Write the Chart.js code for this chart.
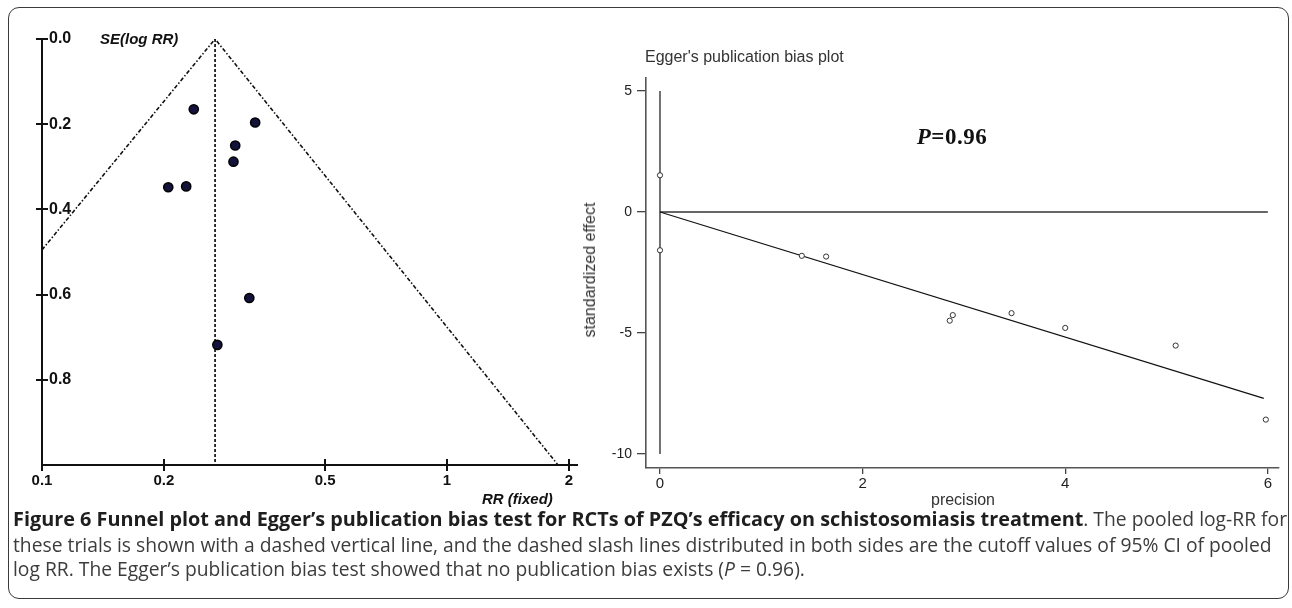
<!DOCTYPE html>
<html><head><meta charset="utf-8">
<script src="https://cdn.jsdelivr.net/npm/chart.js@4.4.0/dist/chart.umd.min.js"></script>
<style>
html,body{margin:0;padding:0;background:#fff;}
body{width:1292px;height:608px;position:relative;overflow:hidden;font-family:"Liberation Sans",Arial,sans-serif;}
.abs{position:absolute;white-space:nowrap;}
#frame{position:absolute;left:8px;top:7px;width:1281px;height:592px;border:1.3px solid #3a3a3a;border-radius:11px;box-sizing:border-box;}
canvas{position:absolute;}
.cap{position:absolute;left:13px;font-family:"Open Sans",sans-serif;color:#3c3c3c;white-space:nowrap;line-height:25px;height:25px;font-size:16px;}
.cap b{color:#1e1e1e;font-weight:700;}
</style></head><body>
<div id="frame"></div>
<canvas id="funnel" width="620" height="520" style="left:0;top:0"></canvas>
<canvas id="egger" width="732" height="480" style="left:560px;top:40px"></canvas>
<div class="abs" style="left:100px;top:30px;font:italic bold 15px 'Liberation Sans',Arial,sans-serif;line-height:18px;color:#111">SE(log RR)</div>
<div class="abs" style="left:482px;top:490px;font:italic bold 15px 'Liberation Sans',Arial,sans-serif;line-height:18px;color:#111">RR (fixed)</div>
<div class="abs" style="left:645px;top:47px;font:16px 'Liberation Sans',Arial,sans-serif;line-height:20px;color:#333">Egger's publication bias plot</div>
<div class="abs" style="left:952px;top:124px;transform:translateX(-50%);font:bold 23px 'Liberation Serif','Times New Roman',serif;line-height:26px;color:#111;letter-spacing:0.5px"><i>P</i>=0.96</div>
<div class="abs" style="left:963px;top:490px;transform:translateX(-50%);font:16px 'Liberation Sans',Arial,sans-serif;line-height:20px;color:#333">precision</div>
<div class="abs" style="left:590px;top:270px;transform:translate(-50%,-50%) rotate(-90deg);font:16px 'Liberation Sans',Arial,sans-serif;line-height:20px;color:#333">standardized effect</div>
<div class="cap" id="cap1" style="top:506px"><b>Figure 6 Funnel plot and Egger’s publication bias test for RCTs of PZQ’s efficacy on schistosomiasis treatment</b>. The pooled log-RR for</div>
<div class="cap" id="cap2" style="top:532px">these trials is shown with a dashed vertical line, and the dashed slash lines distributed in both sides are the cutoff values of 95% CI of pooled</div>
<div class="cap" id="cap3" style="top:556px">log RR. The Egger’s publication bias test showed that no publication bias exists (<i>P</i> = 0.96).</div>
<script>
// ---- Funnel plot data (left) ----
const funnelRR = [0.237, 0.336, 0.300, 0.297, 0.205, 0.227, 0.325, 0.271];
const funnelSE = [0.165, 0.196, 0.250, 0.288, 0.348, 0.346, 0.608, 0.718];
const pooledRR = 0.2675;
const pooledLineSE = [0, 1.0];
const funnelLineRR = [0.1, 0.2675, 1.88];
const funnelLineSE = [0.495, 0, 1.0];
const rrTicks = [0.1, 0.2, 0.5, 1, 2];
const rrTickLabels = ['0.1', '0.2', '0.5', '1', '2'];
const seTicks = [0, 0.2, 0.4, 0.6, 0.8];
const seTickLabels = ['0.0', '0.2', '0.4', '0.6', '0.8'];

// ---- Egger plot data (right) ----
const eggerPrecision = [0, 0, 1.40, 1.64, 2.86, 2.89, 3.47, 4.00, 5.09, 5.98];
const eggerStdEffect = [1.52, -1.58, -1.81, -1.84, -4.49, -4.26, -4.18, -4.79, -5.52, -8.58];
const eggerFitX = [0, 5.96];
const eggerFitY = [0, -7.7];
const zeroLineX = [0, 6];
const zeroLineY = [0, 0];
const vertLineX = [0, 0];
const vertLineY = [-10, 5];
const precTicks = [0, 2, 4, 6];
const precTickLabels = ['0', '2', '4', '6'];
const effTicks = [-10, -5, 0, 5];
const effTickLabels = ['-10', '-5', '0', '5'];

const FAM = "'Liberation Sans', Arial, sans-serif";
Chart.defaults.font.family = FAM;

const crossTicks = {
  id: 'crossTicks',
  afterDraw(chart) {
    const {ctx, chartArea, scales: {x, y}} = chart;
    ctx.save();
    ctx.strokeStyle = '#111';
    ctx.lineWidth = 2;
    x.ticks.forEach(t => {
      const px = Math.round(x.getPixelForValue(t.value));
      ctx.beginPath(); ctx.moveTo(px, chartArea.bottom - 6); ctx.lineTo(px, chartArea.bottom + 6); ctx.stroke();
    });
    y.ticks.forEach(t => {
      const py = Math.round(y.getPixelForValue(t.value));
      ctx.beginPath(); ctx.moveTo(chartArea.left - 6, py); ctx.lineTo(chartArea.left + 6, py); ctx.stroke();
    });
    ctx.restore();
  }
};

new Chart(document.getElementById('funnel'), {
  type: 'scatter',
  data: {
    datasets: [
      {label: 'Trials', data: funnelRR.map((x, i) => ({x, y: funnelSE[i]})), showLine: false,
       pointRadius: 4.6, pointBackgroundColor: '#12123a', pointBorderColor: '#000', pointBorderWidth: 1.5, order: 0},
      {label: 'Pooled', data: pooledLineSE.map(y => ({x: pooledRR, y})), showLine: true,
       borderColor: '#111', borderWidth: 1.7, borderDash: [3, 2], pointRadius: 0, order: 1},
      {label: 'CI', data: funnelLineRR.map((x, i) => ({x, y: funnelLineSE[i]})), showLine: true,
       borderColor: '#111', borderWidth: 1.6, borderDash: [4, 2, 1.5, 2], pointRadius: 0, order: 2}
    ]
  },
  options: {
    responsive: false, animation: false, events: [],
    layout: {padding: {left: 32, top: 39, right: 43, bottom: 15}},
    plugins: {legend: {display: false}, tooltip: {enabled: false}},
    scales: {
      x: {type: 'logarithmic', min: 0.1, max: 2.094, bounds: 'data', position: 'bottom',
          afterBuildTicks: s => { s.ticks = rrTicks.map(v => ({value: v})); },
          afterFit: s => { s.height = 40; },
          ticks: {autoSkip: false, maxRotation: 0, padding: 7, color: '#111',
                  font: {size: 15, weight: 'bold'}, callback: (v, i) => rrTickLabels[i]},
          grid: {display: false, drawTicks: false},
          border: {display: true, color: '#111', width: 2}},
      y: {type: 'linear', reverse: true, min: 0, max: 1, bounds: 'data', position: 'left',
          afterBuildTicks: s => { s.ticks = seTicks.map(v => ({value: v})); },
          afterFit: s => { s.width = 10; },
          ticks: {mirror: true, padding: 7, autoSkip: false, color: '#111',
                  font: {size: 16, weight: 'bold'}, callback: (v, i) => seTickLabels[i]},
          grid: {display: false, drawTicks: false},
          border: {display: true, color: '#111', width: 2}}
    }
  },
  plugins: [crossTicks]
});

new Chart(document.getElementById('egger'), {
  type: 'scatter',
  data: {
    datasets: [
      {label: 'Studies', data: eggerPrecision.map((x, i) => ({x, y: eggerStdEffect[i]})), showLine: false,
       pointRadius: 2.6, pointBackgroundColor: '#fff', pointBorderColor: '#333', pointBorderWidth: 1, order: 0},
      {label: 'Fit', data: eggerFitX.map((x, i) => ({x, y: eggerFitY[i]})), showLine: true,
       borderColor: '#111', borderWidth: 1.2, pointRadius: 0, order: 1},
      {label: 'Zero', data: zeroLineX.map((x, i) => ({x, y: zeroLineY[i]})), showLine: true,
       borderColor: '#333', borderWidth: 1.5, pointRadius: 0, order: 2},
      {label: 'Vert', data: vertLineX.map((x, i) => ({x, y: vertLineY[i]})), showLine: true,
       borderColor: '#444', borderWidth: 1.5, pointRadius: 0, order: 3}
    ]
  },
  options: {
    responsive: false, animation: false, events: [],
    layout: {padding: {left: 46, top: 38, right: 13, bottom: 12}},
    plugins: {legend: {display: false}, tooltip: {enabled: false}},
    scales: {
      x: {type: 'linear', min: -0.138, max: 6.11, bounds: 'data', position: 'bottom',
          afterBuildTicks: s => { s.ticks = precTicks.map(v => ({value: v})); },
          afterFit: s => { s.height = 40; },
          ticks: {autoSkip: false, maxRotation: 0, padding: 1, color: '#222',
                  font: {size: 15}, callback: (v, i) => precTickLabels[i]},
          grid: {display: true, drawOnChartArea: false, drawTicks: true, tickLength: 6, color: '#444', lineWidth: 1.3},
          border: {display: true, color: '#555', width: 1.6}},
      y: {type: 'linear', min: -10.58, max: 5.54, bounds: 'data', position: 'left',
          afterBuildTicks: s => { s.ticks = effTicks.map(v => ({value: v})); },
          afterFit: s => { s.width = 40; },
          ticks: {autoSkip: false, padding: 5, color: '#222',
                  font: {size: 14}, callback: (v, i) => effTickLabels[i]},
          grid: {display: true, drawOnChartArea: false, drawTicks: true, tickLength: 9, color: '#444', lineWidth: 1.3},
          border: {display: true, color: '#555', width: 1.6}}
    }
  }
});

function fitCaption() {
  const caps = document.querySelectorAll('.cap');
  const cap1 = document.getElementById('cap1');
  const cap2 = document.getElementById('cap2');
  const b = cap1.querySelector('b');
  caps.forEach(e => e.style.fontSize = '16px');
  b.style.fontSize = '';
  const w2 = cap2.getBoundingClientRect().width;
  const fsN = 16 * 1259 / w2;
  caps.forEach(e => e.style.fontSize = fsN.toFixed(2) + 'px');
  b.style.fontSize = '16px';
  const bw = b.getBoundingClientRect().width;
  const total = cap1.getBoundingClientRect().width;
  const rem = total - bw;
  const fsB = 16 * (1274 - rem) / bw;
  b.style.fontSize = fsB.toFixed(2) + 'px';
}
fitCaption();
if (document.fonts && document.fonts.ready) document.fonts.ready.then(fitCaption);
</script>
</body></html>
